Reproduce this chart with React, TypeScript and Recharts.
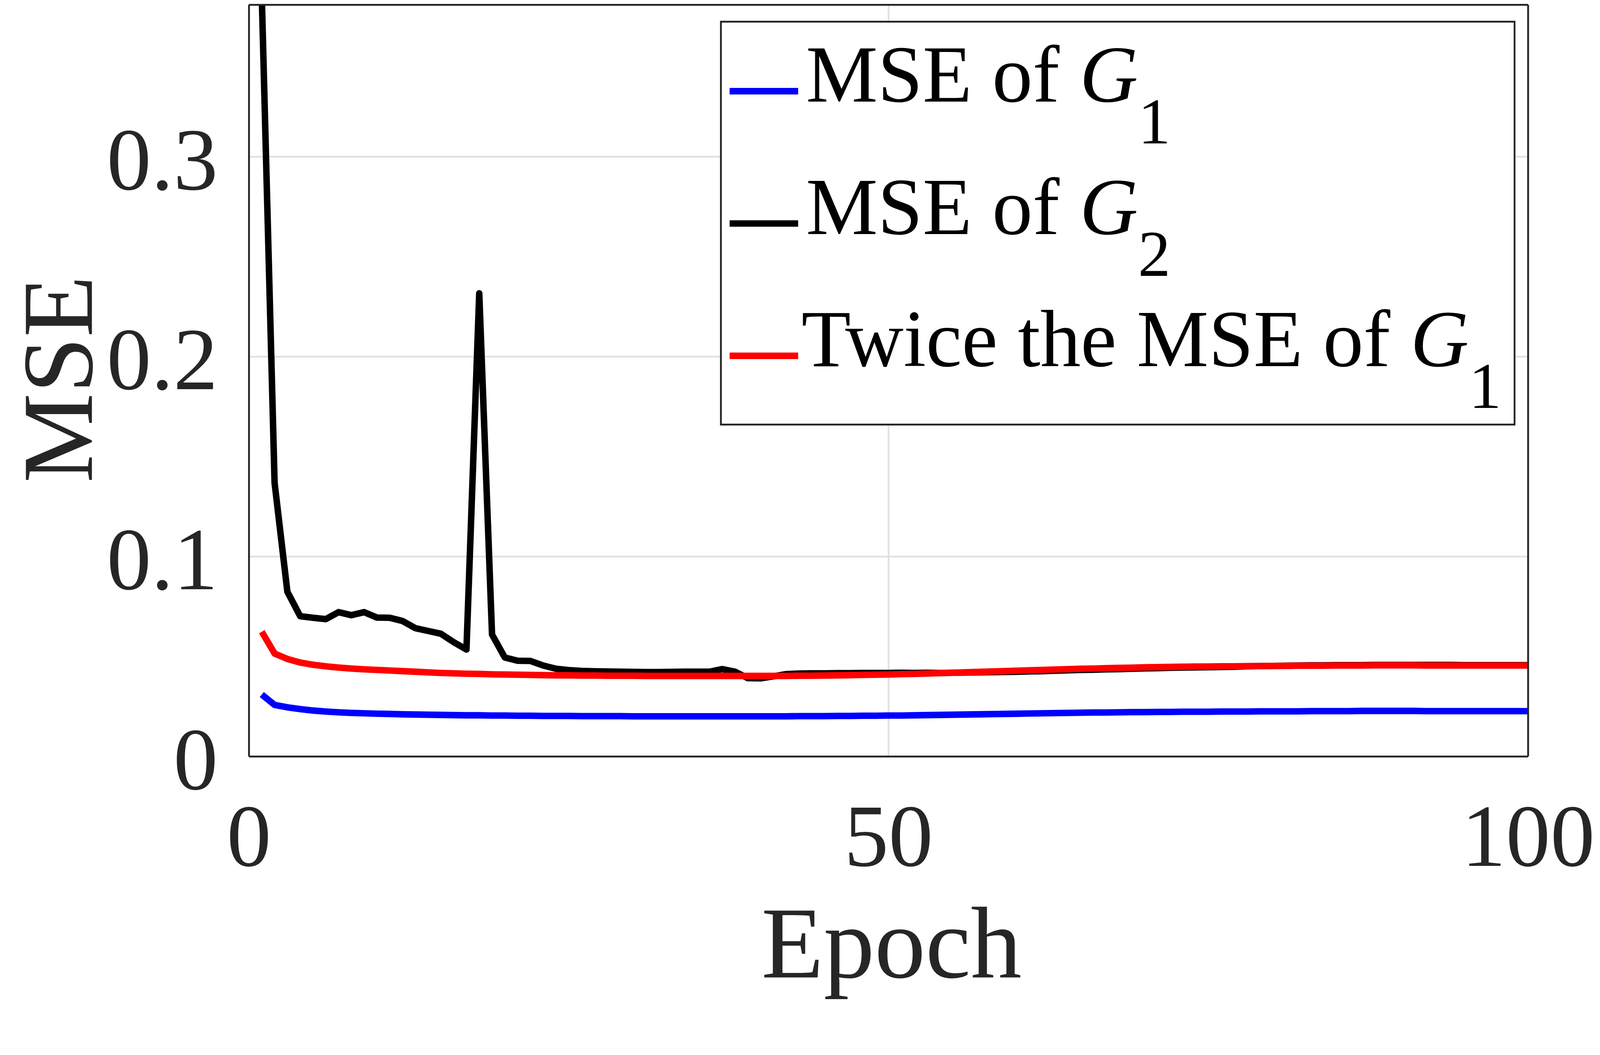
import React from "react";
import { LineChart, Line, XAxis, YAxis, CartesianGrid, Legend, Label } from "recharts";

const epochs = Array.from({ length: 100 }, (_, i) => i + 1);

// MSE of G1 (blue)
const g1Mse = [
  0.031, 0.0258, 0.0246, 0.0237, 0.023, 0.0225, 0.0221, 0.0218, 0.0216, 0.0214,
  0.0213, 0.0211, 0.021, 0.0209, 0.0208, 0.0207, 0.0206, 0.0206, 0.0205, 0.0205,
  0.0204, 0.0204, 0.0203, 0.0203, 0.0203, 0.0202, 0.0202, 0.0202, 0.0202, 0.0201,
  0.0201, 0.0201, 0.0201, 0.0201, 0.0201, 0.0201, 0.0201, 0.0201, 0.0201, 0.0201,
  0.0201, 0.0201, 0.0202, 0.0202, 0.0202, 0.0203, 0.0203, 0.0204, 0.0204, 0.0205,
  0.0205, 0.0206, 0.0207, 0.0208, 0.0209, 0.021, 0.0211, 0.0212, 0.0213, 0.0214,
  0.0215, 0.0216, 0.0217, 0.0218, 0.0219, 0.022, 0.022, 0.0221, 0.0222, 0.0222,
  0.0223, 0.0223, 0.0224, 0.0224, 0.0224, 0.0225, 0.0225, 0.0225, 0.0226, 0.0226,
  0.0226, 0.0226, 0.0227, 0.0227, 0.0227, 0.0227, 0.0228, 0.0228, 0.0228, 0.0228,
  0.0228, 0.0227, 0.0227, 0.0227, 0.0227, 0.0227, 0.0227, 0.0227, 0.0227, 0.0227,
];

// MSE of G2 (black)
const g2Mse = [
  0.38, 0.1369, 0.0824, 0.0702, 0.0694, 0.0687, 0.0722, 0.0707, 0.0722, 0.0695,
  0.0694, 0.0678, 0.0642, 0.0628, 0.0614, 0.0572, 0.0535, 0.2317, 0.061, 0.0495,
  0.0479, 0.0478, 0.0455, 0.0439, 0.0432, 0.0428, 0.0426, 0.0425, 0.0424, 0.0423,
  0.0422, 0.0422, 0.0423, 0.0424, 0.0424, 0.0424, 0.0437, 0.0424, 0.0392, 0.0391,
  0.0401, 0.0412, 0.0415, 0.0416, 0.0416, 0.0417, 0.0417, 0.0418, 0.0418, 0.0418,
  0.0419, 0.0418, 0.0419, 0.0418, 0.0419, 0.042, 0.0421, 0.0422, 0.0423, 0.0424,
  0.0426, 0.0427, 0.0429, 0.0431, 0.0433, 0.0434, 0.0436, 0.0437, 0.0439, 0.0441,
  0.0442, 0.0444, 0.0445, 0.0446, 0.0447, 0.0448, 0.0449, 0.0451, 0.0452, 0.0453,
  0.0454, 0.0455, 0.0456, 0.0456, 0.0457, 0.0457, 0.0457, 0.0458, 0.0458, 0.0458,
  0.0458, 0.0458, 0.0458, 0.0458, 0.0457, 0.0457, 0.0457, 0.0457, 0.0457, 0.0457,
];

// Twice the MSE of G1 (red)
const twiceG1Mse = [
  0.0624, 0.0515, 0.0488, 0.047, 0.0459, 0.0451, 0.0445, 0.044, 0.0436, 0.0433,
  0.043, 0.0427, 0.0424, 0.0421, 0.0418, 0.0416, 0.0414, 0.0413, 0.0411, 0.041,
  0.0409, 0.0408, 0.0407, 0.0406, 0.0406, 0.0405, 0.0405, 0.0404, 0.0404, 0.0404,
  0.0403, 0.0403, 0.0403, 0.0403, 0.0403, 0.0403, 0.0403, 0.0403, 0.0403, 0.0403,
  0.0403, 0.0403, 0.0404, 0.0404, 0.0405, 0.0406, 0.0407, 0.0408, 0.0409, 0.041,
  0.0412, 0.0413, 0.0415, 0.0417, 0.0419, 0.0421, 0.0423, 0.0425, 0.0427, 0.0429,
  0.0431, 0.0433, 0.0435, 0.0437, 0.0439, 0.044, 0.0442, 0.0443, 0.0444, 0.0446,
  0.0447, 0.0448, 0.0449, 0.045, 0.045, 0.0451, 0.0451, 0.0452, 0.0452, 0.0453,
  0.0453, 0.0454, 0.0454, 0.0454, 0.0455, 0.0455, 0.0455, 0.0456, 0.0456, 0.0456,
  0.0456, 0.0455, 0.0455, 0.0455, 0.0455, 0.0455, 0.0455, 0.0455, 0.0455, 0.0455,
];

const xTicks = [0, 50, 100];
const yTicks = [0, 0.1, 0.2, 0.3];
const seriesNames = ["MSE of G1", "MSE of G2", "Twice the MSE of G1"];
const legendParts = [
  { prefix: "MSE of ", sub: "1" },
  { prefix: "MSE of ", sub: "2" },
  { prefix: "Twice the MSE of ", sub: "1" },
];

const data = epochs.map((epoch, i) => ({
  epoch,
  g1: g1Mse[i],
  g2: g2Mse[i],
  twice: twiceG1Mse[i],
}));

// the screenshot comes out ~4318/4096 larger than css px, so lay out in
// picture pixels and shrink the whole thing back
const SCALE = 4096 / 4318;
const W = 4316;
const H = 2696;

const FONT = '"Liberation Serif", "Times New Roman", serif';
const AXIS = "#262626";
const TICK_LEN = 34;
const AXIS_W = 5;
const LINE_W = 17.5;

const XTick = (props: any) => {
  const { x, y, payload } = props;
  return (
    <text x={x} y={y + 295} textAnchor="middle" fontSize={240} fontFamily={FONT} fill={AXIS}>
      {payload.value}
    </text>
  );
};

const YTick = (props: any) => {
  const { x, y, payload } = props;
  return (
    <text x={x} y={y + 88} textAnchor="end" fontSize={240} fontFamily={FONT} fill={AXIS}>
      {String(payload.value)}
    </text>
  );
};

const XLabel = (props: any) => {
  const vb = props.viewBox;
  return (
    <text x={vb.x + vb.width / 2 + 8} y={vb.y + 596} textAnchor="middle" fontSize={275} fontFamily={FONT} fill={AXIS}>
      Epoch
    </text>
  );
};

const YLabel = (props: any) => {
  const vb = props.viewBox;
  const cx = 248;
  const cy = vb.y + vb.height / 2 - 4;
  return (
    <text x={cx} y={cy} transform={`rotate(-90 ${cx} ${cy})`} textAnchor="middle" fontSize={272} fontFamily={FONT} fill={AXIS}>
      MSE
    </text>
  );
};

const renderLegend = (props: any) => {
  const items = props.payload ?? [];
  return (
    <svg width={2147} height={1092} style={{ display: "block" }}>
      <rect x={2.5} y={2.5} width={2142} height={1087} fill="#fff" stroke={AXIS} strokeWidth={5} />
      {items.map((entry: any, i: number) => {
        const lineY = 190 + i * 357;
        const base = lineY + 28;
        const part = legendParts[i];
        return (
          <g key={`leg-${i}`}>
            <line x1={26} x2={211} y1={lineY} y2={lineY} stroke={entry.color} strokeWidth={LINE_W} />
            <text x={i === 2 ? 220 : 232} y={base} fontSize={218} fontFamily={FONT} fill="#000">
              <tspan>{part.prefix}</tspan>
              <tspan fontStyle="italic">G</tspan>
              <tspan fontSize={176} dy={113}>{part.sub}</tspan>
            </text>
          </g>
        );
      })}
    </svg>
  );
};

export default function App() {
  return (
    <div
      style={{
        position: "absolute",
        left: 0,
        top: 0,
        width: W,
        height: H,
        background: "#fff",
        transform: `scale(${SCALE})`,
        transformOrigin: "0 0",
      }}
    >
      <style>{"body{margin:0;overflow:hidden}"}</style>
      <LineChart width={W} height={H} data={data} margin={{ top: 13, right: 192, bottom: 0, left: 0 }}>
        <CartesianGrid xAxisId="x" yAxisId="y" stroke="#e0e0e0" strokeWidth={4.5} />
        <Line xAxisId="x" yAxisId="y" type="linear" dataKey="g1" name={seriesNames[0]} stroke="#0000ff" strokeWidth={LINE_W} dot={false} isAnimationActive={false} strokeLinejoin="round" />
        <Line xAxisId="x" yAxisId="y" type="linear" dataKey="g2" name={seriesNames[1]} stroke="#000000" strokeWidth={LINE_W} dot={false} isAnimationActive={false} strokeLinejoin="round" />
        <Line xAxisId="x" yAxisId="y" type="linear" dataKey="twice" name={seriesNames[2]} stroke="#ff0000" strokeWidth={LINE_W} dot={false} isAnimationActive={false} strokeLinejoin="round" />

        {/* bottom axis with labels */}
        <XAxis xAxisId="x" dataKey="epoch" type="number" domain={[0, 100]} ticks={xTicks} allowDataOverflow interval={0}
          height={655} tickLine={false} tickSize={0} tickMargin={0} tick={<XTick />}
          axisLine={{ stroke: AXIS, strokeWidth: AXIS_W }}>
          <Label content={<XLabel />} />
        </XAxis>
        {/* inward ticks bottom + top */}
        <XAxis xAxisId="xb" dataKey="epoch" type="number" domain={[0, 100]} ticks={xTicks} allowDataOverflow interval={0}
          orientation="bottom" mirror tick={false} tickSize={TICK_LEN} axisLine={false}
          tickLine={{ stroke: AXIS, strokeWidth: AXIS_W }} />
        <XAxis xAxisId="xt" dataKey="epoch" type="number" domain={[0, 100]} ticks={xTicks} allowDataOverflow interval={0}
          orientation="top" mirror tick={false} tickSize={TICK_LEN} axisLine={{ stroke: AXIS, strokeWidth: AXIS_W }}
          tickLine={{ stroke: AXIS, strokeWidth: AXIS_W }} />

        {/* left axis with labels */}
        <YAxis yAxisId="y" type="number" domain={[0, 0.376]} ticks={yTicks} allowDataOverflow interval={0}
          width={672} tickLine={false} tickSize={0} tickMargin={84} tick={<YTick />}
          axisLine={{ stroke: AXIS, strokeWidth: AXIS_W }}>
          <Label content={<YLabel />} />
        </YAxis>
        {/* inward ticks left + right */}
        <YAxis yAxisId="yl" type="number" domain={[0, 0.376]} ticks={yTicks} allowDataOverflow interval={0}
          orientation="left" mirror tick={false} tickSize={TICK_LEN} axisLine={false}
          tickLine={{ stroke: AXIS, strokeWidth: AXIS_W }} />
        <YAxis yAxisId="yr" type="number" domain={[0, 0.376]} ticks={yTicks} allowDataOverflow interval={0}
          orientation="right" mirror tick={false} tickSize={TICK_LEN} axisLine={{ stroke: AXIS, strokeWidth: AXIS_W }}
          tickLine={{ stroke: AXIS, strokeWidth: AXIS_W }} />

        <Legend layout="vertical" align="center" verticalAlign="middle" content={renderLegend}
          wrapperStyle={{ left: 1943, top: 56, width: 2147, height: 1092 }} />
      </LineChart>
    </div>
  );
}
